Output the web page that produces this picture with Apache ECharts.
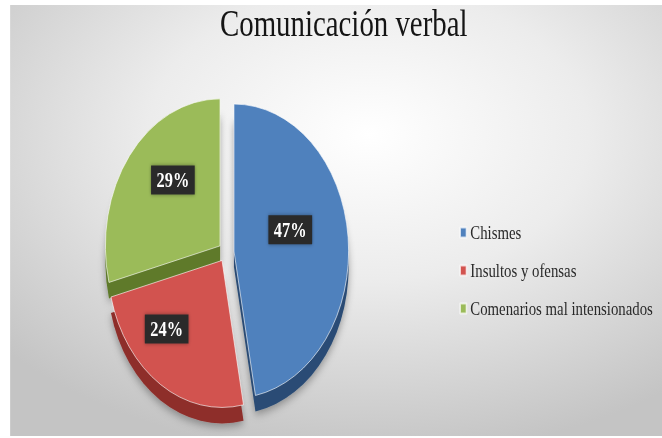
<!DOCTYPE html>
<html>
<head>
<meta charset="utf-8">
<script src="https://cdn.jsdelivr.net/npm/echarts@6/dist/echarts.min.js"></script>
<style>
html,body{margin:0;padding:0;background:#fff;overflow:hidden;width:662px;height:438px;}
#c{width:849px;height:438px;transform:scaleX(0.78);transform-origin:0 0;}
</style>
</head>
<body>
<div id="c"></div>
<script>
const titleText = 'Comunicación verbal';
const categories = ['Chismes', 'Insultos y ofensas', 'Comenarios mal intensionados'];
const values = [47, 24, 29];
const topColors = ['#4F81BD', '#D2534F', '#9BBB59'];
const sideColors = ['#2B4C74', '#8E2F2C', '#5E7A2C'];
const labelShift = [[-4, -14], [-30, 4], [0, -19]];

const chart = echarts.init(document.getElementById('c'), null, {renderer: 'svg'});

const topData = categories.map((n, i) => ({
  name: n, value: values[i], selected: true,
  itemStyle: {color: topColors[i]}
}));
const sideData = categories.map((n, i) => ({
  name: n, value: values[i], selected: true,
  itemStyle: {color: sideColors[i]}
}));

chart.setOption({
  backgroundColor: '#ffffff',
  animation: false,
  graphic: [{
    type: 'rect', z: -10, silent: true,
    shape: {x: 13, y: 5, width: 836, height: 431},
    style: {
      fill: {
        type: 'radial', x: 0.55, y: 0.3, r: 0.75,
        colorStops: [{offset: 0, color: '#ffffff'}, {offset: 0.45, color: '#ececec'}, {offset: 1, color: '#c4c4c4'}]
      }
    }
  }],
  title: {
    text: titleText, left: 277, top: 0,
    textStyle: {fontFamily: 'Liberation Serif', fontSize: 37, fontWeight: 'normal', color: '#151515'}
  },
  legend: {
    orient: 'vertical', left: 584, top: 218, itemGap: 19,
    icon: 'rect', itemWidth: 8, itemHeight: 10,
    textStyle: {fontFamily: 'Liberation Serif', fontSize: 19, color: '#2a2a2a'},
    data: categories.map((n, i) => ({name: n, itemStyle: {color: topColors[i]}}))
  },
  series: [{
    type: 'pie', name: 'top', z: 3,
    center: [290, 252], radius: [0, 147],
    startAngle: 90, clockwise: true,
    selectedMode: 'multiple', selectedOffset: 10,
    avoidLabelOverlap: false,
    itemStyle: {borderColor: 'rgba(255,255,255,0.7)', borderWidth: 1},
    label: {
      show: true, position: 'inside', formatter: '{d}%',
      backgroundColor: '#2a2a2a', padding: [4, 7],
      color: '#fff', fontFamily: 'Liberation Serif', fontWeight: 'bold', fontSize: 21,
      shadowBlur: 4, shadowColor: 'rgba(0,0,0,0.4)'
    },
    labelLayout: function (p) {
      const s = labelShift[p.dataIndex];
      return {dx: s[0], dy: s[1]};
    },
    labelLine: {show: false},
    emphasis: {disabled: true},
    data: topData
  }, {
    type: 'pie', name: 'side', z: 2, silent: true,
    center: [290, 268], radius: [0, 147],
    startAngle: 90, clockwise: true,
    selectedMode: 'multiple', selectedOffset: 10,
    itemStyle: {shadowBlur: 10, shadowColor: 'rgba(0,0,0,0.35)', shadowOffsetY: 3},
    label: {show: false}, labelLine: {show: false},
    emphasis: {disabled: true},
    data: sideData
  }]
});
</script>
</body>
</html>
